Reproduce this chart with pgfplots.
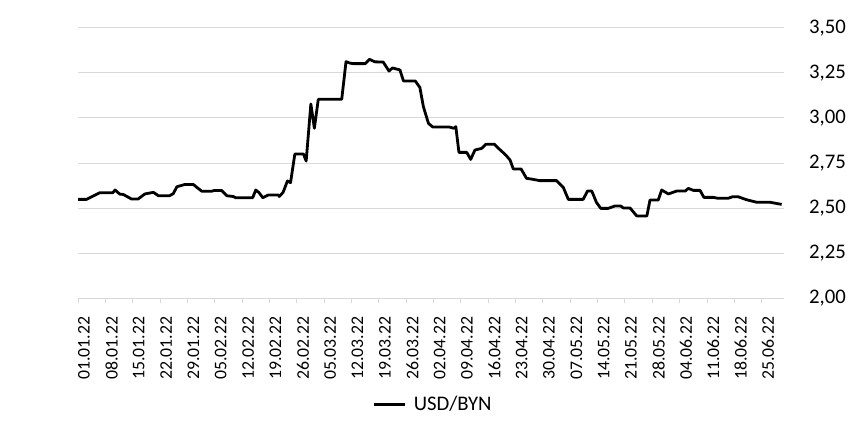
\documentclass[border=0pt]{standalone}
\usepackage{fontspec}
\setmainfont{Carlito}
\usepackage{pgfplots}
\pgfplotsset{compat=1.18}
\definecolor{gridc}{HTML}{D9D9D9}
\begin{document}
\begin{tikzpicture}
\begin{axis}[
  name=ax,
  scale only axis,
  width=706bp, height=270bp,
  xmin=0, xmax=180.7,
  ymin=2, ymax=3.5,
  axis x line*=bottom,
  axis y line*=right,
  y axis line style={draw=none},
  x axis line style={draw=gridc, line width=1bp},
  ymajorgrids,
  grid style={draw=gridc, line width=1bp},
  ytick={2,2.25,2.5,2.75,3,3.25,3.5},
  ytick style={draw=none},
  yticklabel pos=right,
  yticklabel style={anchor=west, inner sep=0pt, xshift=20bp, font=\fontsize{20.75bp}{25bp}\selectfont},
  /pgf/number format/.cd, fixed, fixed zerofill, precision=2, use comma, assume math mode=true,
  /pgfplots/.cd,
  xtick={0,7,...,175},
  xticklabels={01.01.22,08.01.22,15.01.22,22.01.22,29.01.22,05.02.22,12.02.22,19.02.22,26.02.22,05.03.22,12.03.22,19.03.22,26.03.22,02.04.22,09.04.22,16.04.22,23.04.22,30.04.22,07.05.22,14.05.22,21.05.22,28.05.22,04.06.22,11.06.22,18.06.22,25.06.22},
  xtick style={draw=gridc, line width=1bp},
  tick align=outside,
  major tick length=5bp,
  xticklabel style={rotate=90, anchor=north east, inner sep=0pt, xshift=-13.5bp, font=\fontsize{17.75bp}{21bp}\selectfont},
  legend style={at={(axis description cs:0.4174,-0.3944)}, anchor=west, draw=none, inner sep=0pt, outer sep=0pt, nodes={inner sep=0pt}, font=\fontsize{20.75bp}{25bp}\selectfont},
  legend image code/.code={\draw[#1] (0bp,0bp) -- (30.5bp,0bp); \path (38.3bp,0bp);},
  clip=false,
]
\addplot[black, line width=2.8bp, line join=round] coordinates {
(0,2.548)(2.2,2.548)(5.6,2.585)(8.9,2.585)(9.5,2.60)(10.7,2.577)(11.6,2.575)
(13.7,2.55)(15.4,2.55)(17.1,2.578)(19.3,2.587)(20.6,2.568)(23.4,2.568)(24.4,2.58)
(25.3,2.618)(27.4,2.631)(29.5,2.631)(30.4,2.615)(31.7,2.593)(34.2,2.593)(34.8,2.597)
(36.8,2.597)(38.1,2.568)(39.7,2.564)(40.4,2.557)(44.7,2.557)(45.5,2.60)(46.3,2.586)
(47.3,2.557)(48.7,2.572)(51.3,2.572)(51.5,2.564)(52.5,2.587)(53.6,2.65)(54.4,2.641)
(55.5,2.80)(57.7,2.80)(58.4,2.761)(59.6,3.078)(60.5,2.943)(61.5,3.104)(67.5,3.104)
(68.6,3.313)(69.6,3.305)(70.5,3.302)(73.5,3.302)(74.6,3.326)(76.0,3.312)(78.1,3.311)
(79.6,3.261)(80.5,3.278)(82.4,3.267)(83.3,3.206)(86.3,3.206)(87.5,3.17)(88.4,3.063)
(89.7,2.97)(90.8,2.95)(95.0,2.95)(96.2,2.943)(96.7,2.952)(97.5,2.809)(99.5,2.809)
(100.5,2.77)(101.6,2.822)(103.3,2.831)(104.4,2.854)(106.6,2.854)(107.8,2.828)
(109.5,2.794)(110.6,2.766)(111.4,2.717)(113.4,2.717)(114.8,2.665)(116.5,2.659)
(118.2,2.652)(122.5,2.652)(124.2,2.615)(125.5,2.548)(129.3,2.548)(130.4,2.594)
(131.5,2.594)(132.7,2.531)(133.8,2.498)(135.7,2.498)(137.4,2.511)(138.9,2.511)
(139.6,2.50)(141.3,2.50)(143.0,2.456)(145.6,2.456)(146.4,2.544)(148.5,2.544)
(149.4,2.60)(151.1,2.578)(153.2,2.594)(155.4,2.594)(156.2,2.609)(157.5,2.598)
(159.2,2.598)(160.2,2.559)(162.6,2.559)(163.8,2.554)(166.4,2.554)(167.6,2.563)
(168.9,2.563)(171.1,2.546)(173.7,2.532)(177.1,2.532)(180.1,2.52)
};
\addlegendentry{USD/BYN}
\end{axis}
\pgfresetboundingbox
\path (ax.south west) ++(-78bp,-136bp) rectangle ++(860bp,434bp);
\end{tikzpicture}
\end{document}
